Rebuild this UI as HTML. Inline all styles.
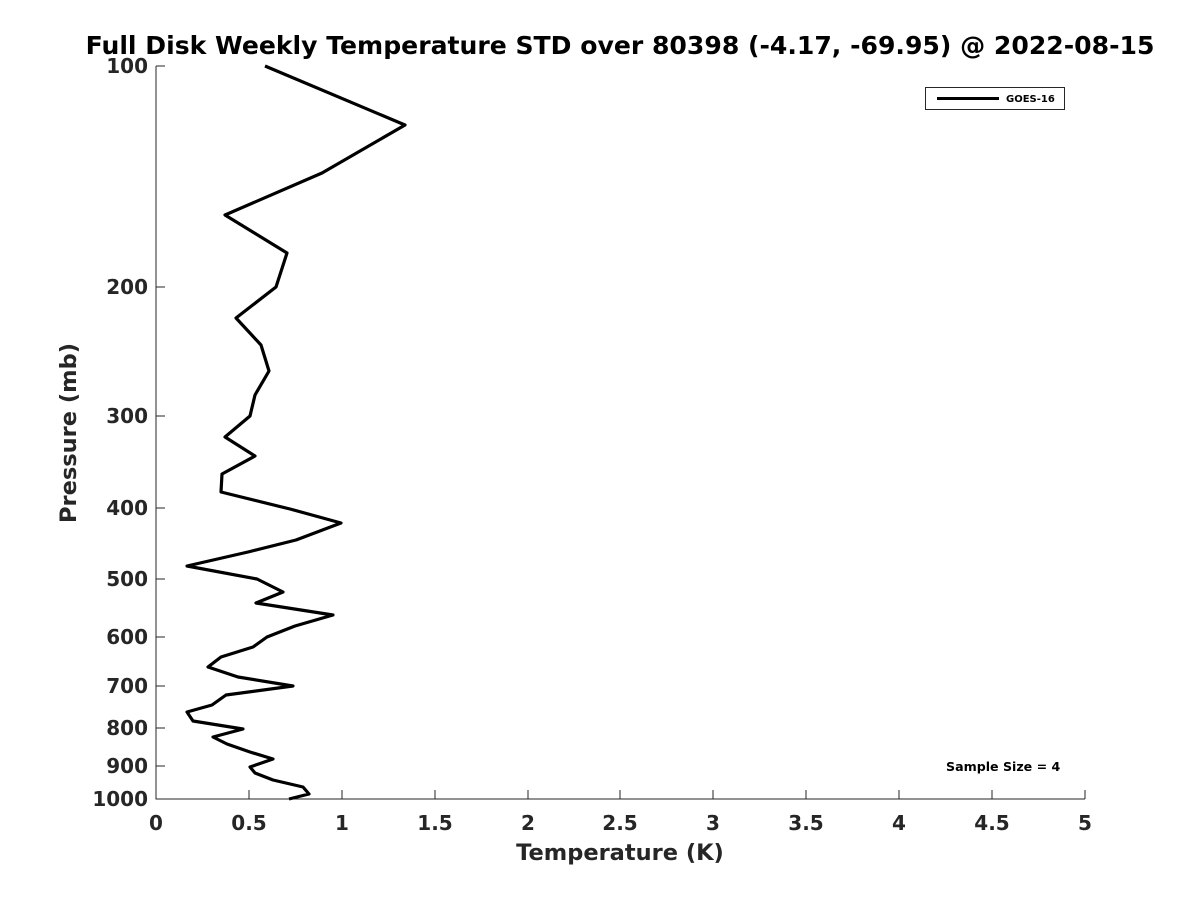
<!DOCTYPE html>
<html><head><meta charset="utf-8"><style>body{margin:0;background:#fff}svg{display:block}text{font-family:"DejaVu Sans","Liberation Sans",sans-serif;font-weight:bold;fill:#262626}</style></head><body>
<svg width="1200" height="900" viewBox="0 0 1200 900">
<text x="620" y="54" text-anchor="middle" font-size="25.1" style="fill:#000">Full Disk Weekly Temperature STD over 80398 (-4.17, -69.95) @ 2022-08-15</text>
<g stroke="#262626" stroke-width="1" fill="none">
<path d="M156,66V799H1085"/>
<path d="M156,287h9M156,416h9M156,508h9M156,579h9M156,637h9M156,686h9M156,728h9M156,766h9M156,66h9"/>
<path d="M249,799v-9M342,799v-9M435,799v-9M528,799v-9M620,799v-9M713,799v-9M806,799v-9M899,799v-9M992,799v-9M1085,799v-9"/>
</g>
<g font-size="20" text-anchor="end">
<text x="148" y="73">100</text><text x="148" y="294">200</text><text x="148" y="423">300</text><text x="148" y="515">400</text><text x="148" y="586">500</text><text x="148" y="644">600</text><text x="148" y="693">700</text><text x="148" y="735">800</text><text x="148" y="773">900</text><text x="148" y="806">1000</text>
</g>
<g font-size="20" text-anchor="middle">
<text x="156" y="830">0</text><text x="249" y="830">0.5</text><text x="342" y="830">1</text><text x="435" y="830">1.5</text><text x="528" y="830">2</text><text x="620" y="830">2.5</text><text x="713" y="830">3</text><text x="806" y="830">3.5</text><text x="899" y="830">4</text><text x="992" y="830">4.5</text><text x="1085" y="830">5</text>
</g>
<text x="620" y="860" text-anchor="middle" font-size="22.5">Temperature (K)</text>
<text transform="translate(76,433) rotate(-90)" text-anchor="middle" font-size="22.5">Pressure (mb)</text>
<polyline fill="none" stroke="#000" stroke-width="3.2" stroke-linejoin="round" points="265,66 405,125 322,173 225,215 287,253 276,287 236,318 261,345 269,371 255,395 250,416 225,437 255,456 222,474 221,492 290,509 341,523 296,540 248,552 187,566 257,579 283,592 256,603 333,615 295,626 267,637 253,647 221,657 208,667 238,677 293,686 226,695 212,705 187,712 193,721 243,729 213,737 227,744 250,752 273,759 250,767 255,773 273,780 303,787 309,794 289,799"/>
<rect x="925.5" y="87.5" width="139" height="22" fill="#fff" stroke="#262626"/>
<line x1="937" y1="98.5" x2="999" y2="98.5" stroke="#000" stroke-width="3"/>
<text x="1006" y="102" font-size="10" style="fill:#000">GOES-16</text>
<text x="946" y="771" font-size="12.6" style="fill:#000">Sample Size = 4</text>
</svg>
</body></html>
